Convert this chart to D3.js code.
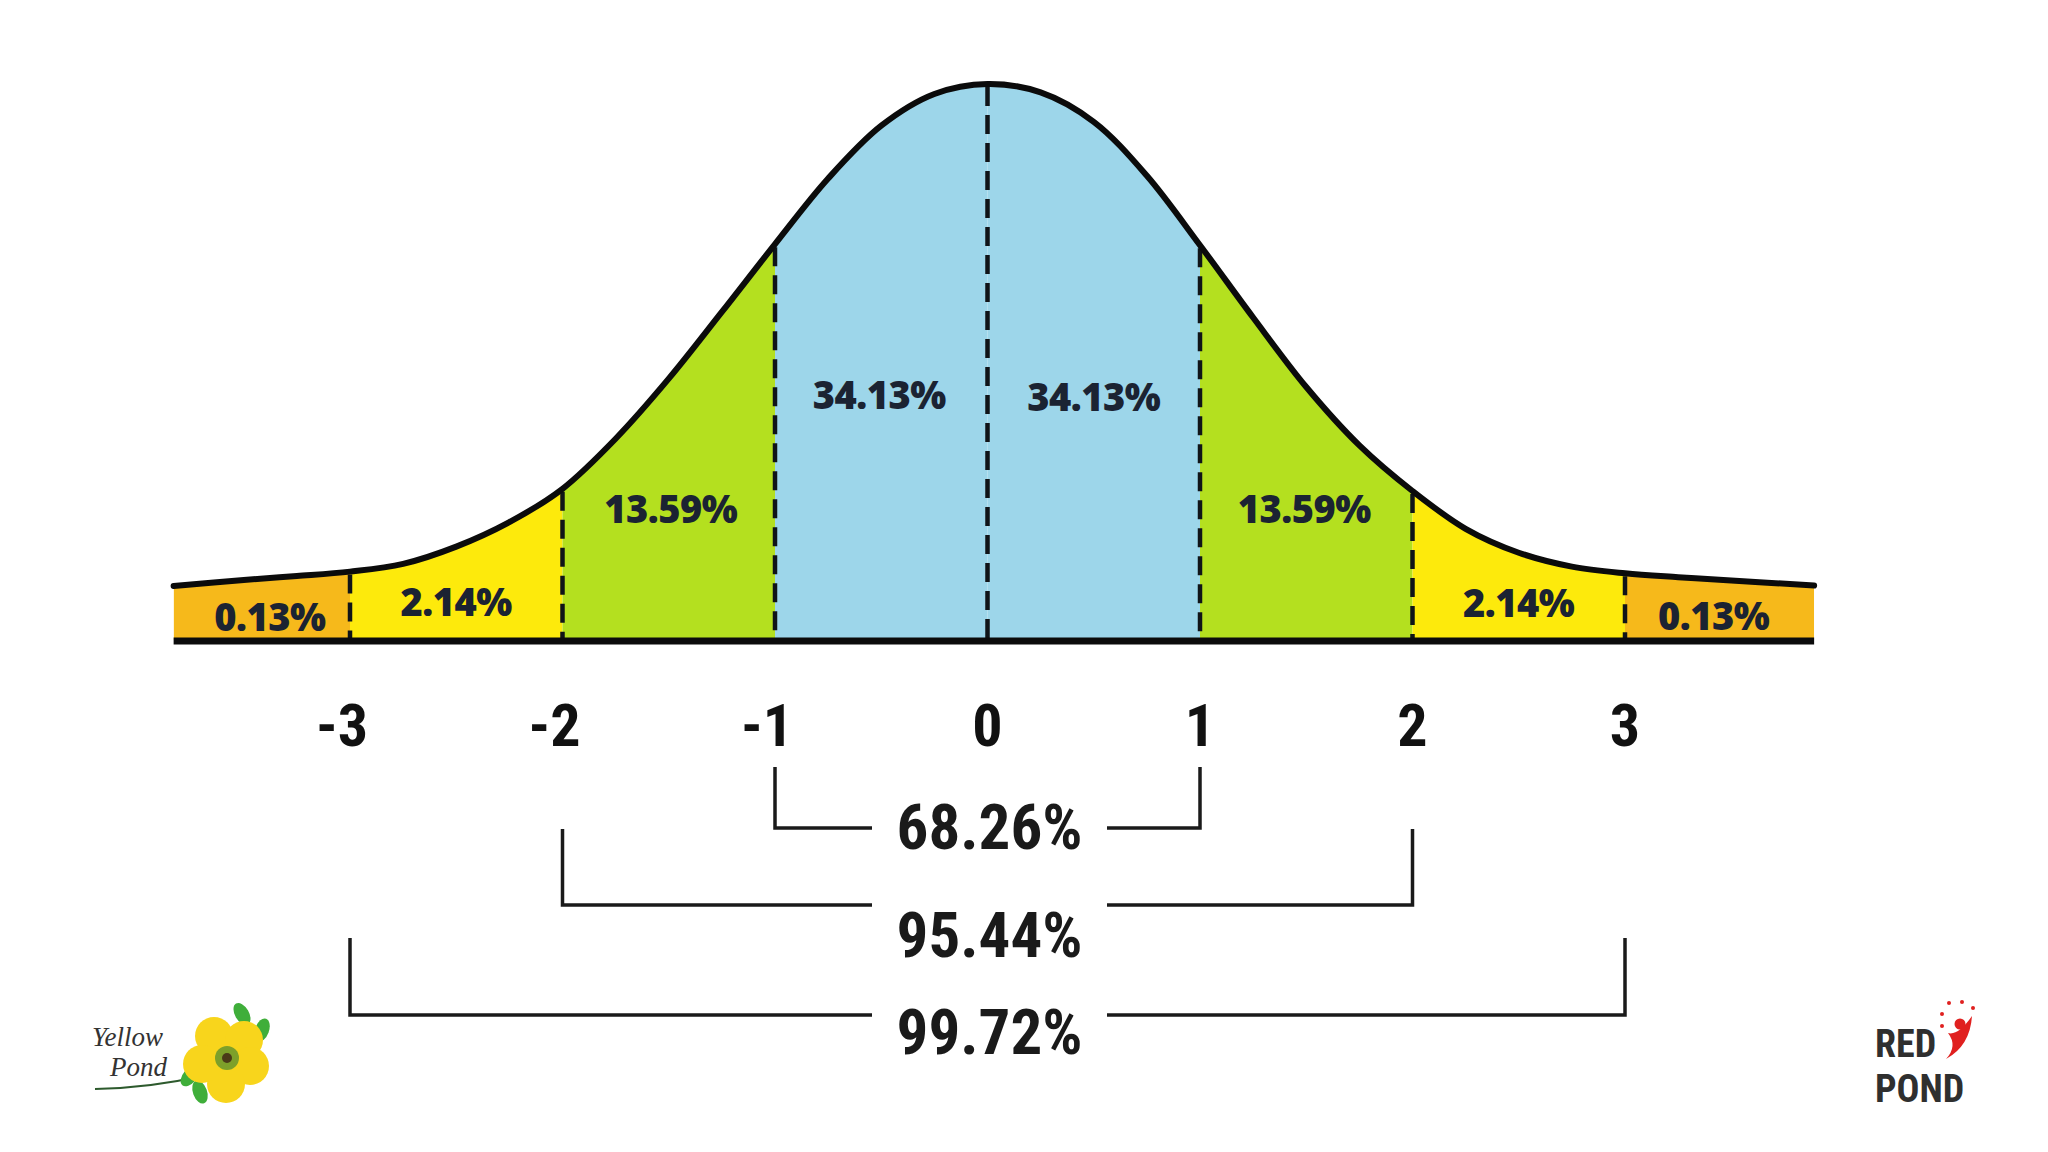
<!DOCTYPE html>
<html>
<head>
<meta charset="utf-8">
<script src="https://cdn.jsdelivr.net/npm/d3@7"></script>
<style>
  html, body { margin: 0; padding: 0; background: #ffffff; }
  svg { display: block; }
</style>
</head>
<body>
<svg id="chart" width="2048" height="1152"></svg>
<script>
// ---------------- DATA ----------------
// Curve outline: z position and relative height (peak = 1)
const curveZ = [-3.83, -3.5, -3.25, -3, -2.75, -2.5, -2.25, -2, -1.75, -1.5, -1.25, -1, -0.75, -0.5, -0.25, 0,
                0.25, 0.5, 0.75, 1, 1.25, 1.5, 1.75, 2, 2.25, 2.5, 2.75, 3, 3.25, 3.5, 3.89];
const curveH = [0.097, 0.108, 0.115, 0.123, 0.137, 0.168, 0.212, 0.272, 0.362, 0.47, 0.59, 0.712, 0.83, 0.925, 0.982, 1.0,
                0.985, 0.932, 0.835, 0.71, 0.58, 0.455, 0.35, 0.268, 0.2, 0.157, 0.132, 0.12, 0.113, 0.107, 0.098];

// Segments between the standard-deviation marks
const segStart  = [-3.83, -3, -2, -1, 0, 1, 2, 3];
const segEnd    = [-3, -2, -1, 0, 1, 2, 3, 3.89];
const segLabels = ["0.13%", "2.14%", "13.59%", "34.13%", "34.13%", "13.59%", "2.14%", "0.13%"];
const segKind   = ["tail", "outer", "mid", "inner", "inner", "mid", "outer", "tail"];

// Boundaries (dashed lines) and tick labels
const boundaries = [-3, -2, -1, 0, 1, 2, 3];
const tickLabels = ["-3", "-2", "-1", "0", "1", "2", "3"];

// Brackets under the axis
const bracketFrom   = [-1, -2, -3];
const bracketTo     = [1, 2, 3];
const bracketLabels = ["68.26%", "95.44%", "99.72%"];

// ---------------- STYLE / LAYOUT ----------------
const fills = { tail: "#f6b91b", outer: "#fdea0c", mid: "#b4e01f", inner: "#9dd6ea" };
const segLabelY = [616, 601, 508, 394, 396, 508, 602, 615];  // label centre y
const segLabelDX = [8, 0, 2, -2, 0, -2, 0, -6];
const bracketTop = [767, 829, 938];
const bracketBot = [828, 905, 1015];
const bracketTextY = [827, 935, 1032];
const gapLeft = 872, gapRight = 1107;

const svg = d3.select("#chart");

const x = d3.scaleLinear().domain([-3, 3]).range([350, 1625]);
const y = d3.scaleLinear().domain([0, 1]).range([640, 84]);

const pts = curveZ.map((z, i) => ({ z, h: curveH[i] }));
const hAt = z => pts.find(p => p.z === z).h;

const area = d3.area()
  .x(d => x(d.z)).y0(y(0)).y1(d => y(d.h))
  .curve(d3.curveCatmullRom.alpha(0.5));
const line = d3.line()
  .x(d => x(d.z)).y(d => y(d.h))
  .curve(d3.curveCatmullRom.alpha(0.5));

const defs = svg.append("defs");

// Segment fills via clip paths
segStart.forEach((s, i) => {
  defs.append("clipPath").attr("id", "seg" + i)
    .append("rect")
    .attr("x", x(s)).attr("y", 0)
    .attr("width", x(segEnd[i]) - x(s)).attr("height", 1152);
  svg.append("path")
    .datum(pts)
    .attr("d", area)
    .attr("fill", fills[segKind[i]])
    .attr("clip-path", `url(#seg${i})`);
});

// Dashed boundary lines
svg.append("g").selectAll("line")
  .data(boundaries)
  .join("line")
  .attr("x1", d => x(d)).attr("x2", d => x(d))
  .attr("y1", d => y(hAt(d)) + 3).attr("y2", y(0))
  .attr("stroke", "#101418")
  .attr("stroke-width", 4.5)
  .attr("stroke-dasharray", "19,9");

// Curve outline
svg.append("path")
  .datum(pts)
  .attr("d", line)
  .attr("fill", "none")
  .attr("stroke", "#0b0b0b")
  .attr("stroke-width", 6)
  .attr("stroke-linecap", "round");

// Baseline
svg.append("line")
  .attr("x1", x(curveZ[0])).attr("x2", x(curveZ[curveZ.length - 1]))
  .attr("y1", y(0) + 1).attr("y2", y(0) + 1)
  .attr("stroke", "#0b0b0b").attr("stroke-width", 7);

// Segment labels
svg.append("g").selectAll("text")
  .data(segLabels)
  .join("text")
  .attr("x", (d, i) => (x(segStart[i]) + x(segEnd[i])) / 2 + segLabelDX[i])
  .attr("y", (d, i) => segLabelY[i])
  .attr("text-anchor", "middle")
  .attr("dominant-baseline", "central")
  .attr("font-family", "'Open Sans', 'Noto Sans', sans-serif")
  .attr("font-weight", 800)
  .attr("font-size", 38)
  .attr("letter-spacing", -0.5)
  .attr("fill", "#1b2332")
  .text(d => d);

// Tick labels
const condensed = "'Liberation Sans Narrow', 'Roboto Condensed', 'DejaVu Sans Condensed', sans-serif";
svg.append("g").selectAll("text")
  .data(tickLabels)
  .join("text")
  .attr("x", (d, i) => x(boundaries[i]) - (d.startsWith("-") ? 8 : 0))
  .attr("y", 725)
  .attr("text-anchor", "middle")
  .attr("dominant-baseline", "central")
  .attr("font-family", condensed)
  .attr("font-weight", 700)
  .attr("font-size", 60)
  .attr("fill", "#111")
  .text(d => d);

// Brackets
const bg = svg.append("g")
  .attr("fill", "none").attr("stroke", "#1a1a1a").attr("stroke-width", 3.5);
bracketLabels.forEach((lab, i) => {
  const xl = x(bracketFrom[i]), xr = x(bracketTo[i]);
  bg.append("path")
    .attr("d", `M${xl},${bracketTop[i]} V${bracketBot[i]} H${gapLeft}`);
  bg.append("path")
    .attr("d", `M${xr},${bracketTop[i]} V${bracketBot[i]} H${gapRight}`);
  svg.append("text")
    .attr("x", (gapLeft + gapRight) / 2)
    .attr("y", bracketTextY[i])
    .attr("text-anchor", "middle")
    .attr("dominant-baseline", "central")
    .attr("font-family", condensed)
    .attr("font-weight", 700)
    .attr("font-size", 63)
    .attr("fill", "#1a1a1a")
    .text(lab);
});

// ---------------- LOGOS ----------------
// Yellow Pond
const yp = svg.append("g");
yp.append("path")
  .attr("d", "M95,1089 Q150,1088 202,1076")
  .attr("fill", "none").attr("stroke", "#2d5a2d").attr("stroke-width", 2);
const leaves = [[242,1014,-30],[262,1030,20],[190,1076,40],[200,1092,-20],[226,1090,10]];
leaves.forEach(([lx,ly,r]) => {
  yp.append("ellipse").attr("cx", lx).attr("cy", ly).attr("rx", 7).attr("ry", 12)
    .attr("transform", `rotate(${r},${lx},${ly})`).attr("fill", "#3fae3a");
});
const petals = [[214,1036],[244,1040],[250,1066],[226,1084],[202,1064]];
petals.forEach(([px,py]) => {
  yp.append("circle").attr("cx", px).attr("cy", py).attr("r", 19).attr("fill", "#f8d51c");
});
yp.append("circle").attr("cx", 227).attr("cy", 1058).attr("r", 12).attr("fill", "#7da02a");
yp.append("circle").attr("cx", 227).attr("cy", 1058).attr("r", 5).attr("fill", "#4a3a18");
const ypText = yp.append("text")
  .attr("font-family", "'Liberation Serif', serif").attr("font-style", "italic")
  .attr("font-size", 27).attr("fill", "#333");
ypText.append("tspan").attr("x", 92).attr("y", 1046).text("Yellow");
ypText.append("tspan").attr("x", 110).attr("y", 1076).text("Pond");

// Red Pond
const rp = svg.append("g");
const rpText = rp.append("text")
  .attr("font-family", condensed).attr("font-weight", 700)
  .attr("font-size", 38).attr("fill", "#2f2f2f");
rpText.append("tspan").attr("x", 1875).attr("y", 1057).text("RED");
rpText.append("tspan").attr("x", 1875).attr("y", 1102).text("POND");
rp.append("circle").attr("cx", 1960).attr("cy", 1024).attr("r", 5.5).attr("fill", "#e0201f");
rp.append("path")
  .attr("d", "M1948,1033 Q1958,1036 1972,1016 Q1970,1046 1946,1059 Q1958,1046 1948,1033 Z")
  .attr("fill", "#e0201f");
[[1949,1003],[1962,1002],[1973,1008],[1942,1014],[1942,1026]].forEach(([dx,dy]) => {
  rp.append("circle").attr("cx", dx).attr("cy", dy).attr("r", 2).attr("fill", "#e0201f");
});
</script>
</body>
</html>
